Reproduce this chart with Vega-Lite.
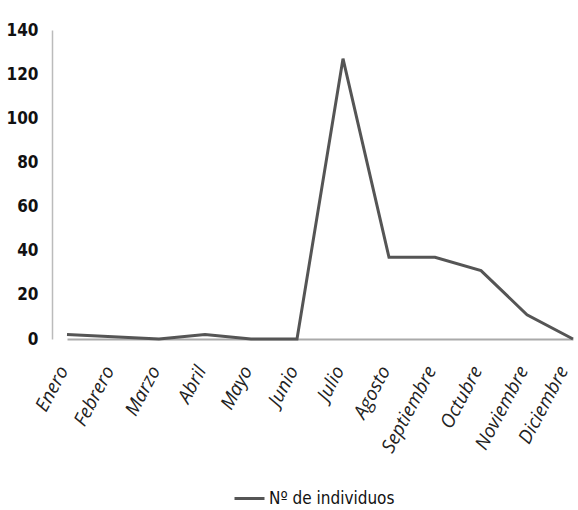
{
  "$schema": "https://vega.github.io/schema/vega-lite/v6.json",
  "width": 522,
  "height": 309,
  "autosize": {"type": "none"},
  "padding": {"left": 52, "top": 30, "right": 4, "bottom": 171},
  "background": "white",
  "config": {"view": {"stroke": null}},
  "data": {
    "values": [
      {"mes": "Enero", "n": 2},
      {"mes": "Febrero", "n": 1},
      {"mes": "Marzo", "n": 0},
      {"mes": "Abril", "n": 2},
      {"mes": "Mayo", "n": 0},
      {"mes": "Junio", "n": 0},
      {"mes": "Julio", "n": 127},
      {"mes": "Agosto", "n": 37},
      {"mes": "Septiembre", "n": 37},
      {"mes": "Octubre", "n": 31},
      {"mes": "Noviembre", "n": 11},
      {"mes": "Diciembre", "n": 0}
    ]
  },
  "mark": {"type": "line", "strokeWidth": 3},
  "encoding": {
    "x": {
      "field": "mes",
      "type": "ordinal",
      "sort": null,
      "scale": {"type": "point", "range": [15, 521], "padding": 0},
      "axis": {
        "title": null,
        "labelAngle": -62,
        "labelAlign": "right",
        "labelBaseline": "middle",
        "labelPadding": 28,
        "labelOffset": {"condition": {"test": "datum.value === 'Diciembre'", "value": -10}, "value": -4},
        "labelFont": "Open Sans",
        "labelFontStyle": "italic",
        "labelFontSize": 19,
        "labelColor": "#222",
        "ticks": false,
        "domainColor": "#aaa",
        "domainWidth": 2,
        "grid": false
      }
    },
    "y": {
      "field": "n",
      "type": "quantitative",
      "scale": {"domain": [0, 140]},
      "axis": {
        "title": null,
        "values": [0, 20, 40, 60, 80, 100, 120, 140],
        "labelFont": "DejaVu Sans Condensed, Liberation Sans",
        "labelFontWeight": "bold",
        "labelFontSize": 17,
        "labelColor": "#111",
        "labelPadding": 14,
        "ticks": false,
        "domainColor": "#bbb",
        "domainWidth": 1.5,
        "grid": false
      }
    },
    "color": {
      "datum": "Nº de individuos",
      "scale": {"range": ["#555555"]},
      "legend": {
        "title": null,
        "orient": "none",
        "legendX": 181,
        "legendY": 452,
        "symbolType": "stroke",
        "symbolSize": 900,
        "symbolStrokeWidth": 3,
        "labelFont": "DejaVu Sans Condensed, Liberation Sans",
        "labelFontSize": 17,
        "labelColor": "#111",
        "labelOffset": 3
      }
    }
  }
}
